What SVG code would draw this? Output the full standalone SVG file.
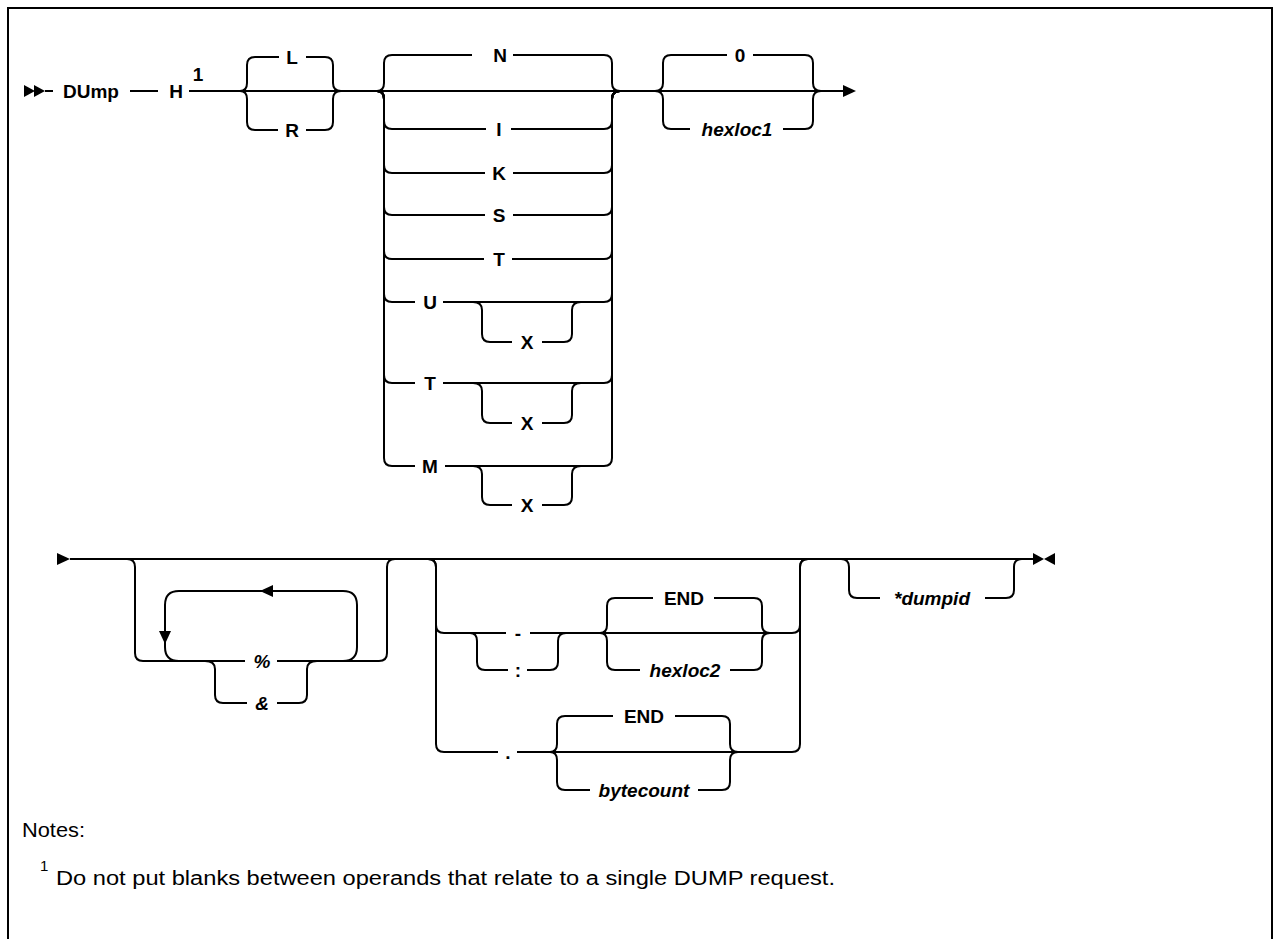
<svg xmlns="http://www.w3.org/2000/svg" width="1274" height="939" viewBox="0 0 1274 939">
<style>
.ln{fill:none;stroke:#000;stroke-width:2;stroke-linecap:butt}
.fr{fill:none;stroke:#000;stroke-width:2}
.ah{fill:#000;stroke:none}
.kw{font-family:"Liberation Sans",Arial,sans-serif;font-weight:bold;font-size:19px;text-anchor:middle;fill:#000}
.var{font-family:"Liberation Sans",Arial,sans-serif;font-weight:bold;font-style:italic;font-size:19px;text-anchor:middle;fill:#000}
.note{font-family:"Liberation Sans",Arial,sans-serif;font-size:20px;fill:#000}
</style>
<rect width="1274" height="939" fill="#fff"/>
<g id="frame">
<path class="fr" d="M8,939 V8 H1272 V939"/>
</g>
<g id="connectors">
<!-- row 1 -->
<polygon class="ah" points="24,85 35,91 24,97"/>
<polygon class="ah" points="34,85 45,91 34,97"/>
<path class="ln" d="M45,91 H53 M130,91 H158 M189,91 H843"/>
<path class="ln" d="M240,91 Q247,91 247,83 V65 Q247,57 255,57 H279 M306,57 H325 Q333,57 333,65 V83 Q333,91 341,91"/>
<path class="ln" d="M240,91 Q247,91 247,99 V122 Q247,130 255,130 H278 M306,130 H325 Q333,130 333,122 V99 Q333,91 341,91"/>
<path class="ln" d="M377,91 Q384,91 384,83 V63 Q384,55 392,55 H472 M513,55 H604 Q612,55 612,63 V83 Q612,91 620,91"/>
<path class="ln" d="M377,91 Q384,91 384,99 V121 Q384,129 392,129 H486 M511,129 H604 Q612,129 612,121 V99 Q612,91 620,91"/>
<path class="ln" d="M377,91 Q384,91 384,99 V165 Q384,173 392,173 H485 M513,173 H604 Q612,173 612,165 V99 Q612,91 620,91"/>
<path class="ln" d="M377,91 Q384,91 384,99 V207 Q384,215 392,215 H485 M513,215 H604 Q612,215 612,207 V99 Q612,91 620,91"/>
<path class="ln" d="M377,91 Q384,91 384,99 V251 Q384,259 392,259 H484 M512,259 H604 Q612,259 612,251 V99 Q612,91 620,91"/>
<path class="ln" d="M377,91 Q384,91 384,99 V294 Q384,302 392,302 H415 M443,302 H604 Q612,302 612,294 V99 Q612,91 620,91"/>
<path class="ln" d="M473,302 Q482,302 482,310 V334 Q482,342 490,342 H512 M542,342 H564 Q572,342 572,334 V310 Q572,302 581,302"/>
<path class="ln" d="M377,91 Q384,91 384,99 V375 Q384,383 392,383 H415 M443,383 H604 Q612,383 612,375 V99 Q612,91 620,91"/>
<path class="ln" d="M473,383 Q482,383 482,391 V415 Q482,423 490,423 H512 M542,423 H564 Q572,423 572,415 V391 Q572,383 581,383"/>
<path class="ln" d="M377,91 Q384,91 384,99 V458 Q384,466 392,466 H415 M445,466 H604 Q612,466 612,458 V99 Q612,91 620,91"/>
<path class="ln" d="M473,466 Q482,466 482,474 V497 Q482,505 490,505 H512 M542,505 H564 Q572,505 572,497 V474 Q572,466 581,466"/>
<path class="ln" d="M655,91 Q663,91 663,83 V63 Q663,55 671,55 H727 M753,55 H805 Q813,55 813,63 V83 Q813,91 821,91"/>
<path class="ln" d="M655,91 Q663,91 663,99 V121 Q663,129 671,129 H690 M783,129 H805 Q813,129 813,121 V99 Q813,91 821,91"/>
<polygon class="ah" points="843,85 856,91 843,97"/>
<!-- row 2 -->
<polygon class="ah" points="57,553 70,559 57,565"/>
<path class="ln" d="M70,559 H1033"/>
<path class="ln" d="M127,559 Q135,559 135,567 V653 Q135,661 143,661 H245 M277,661 H379 Q387,661 387,653 V567 Q387,559 395,559"/>
<path class="ln" d="M343,661 Q357,661 357,647 V605 Q357,591 343,591 H179 Q165,591 165,605 V647 Q165,661 179,661"/>
<polygon class="ah" points="260,591 273,585 273,597"/>
<polygon class="ah" points="165,644 159,631 171,631"/>
<path class="ln" d="M205,661 Q215,661 215,669 V695 Q215,703 223,703 H247 M277,703 H299 Q307,703 307,695 V669 Q307,661 317,661"/>
<path class="ln" d="M428,559 Q436,559 436,567 V625 Q436,633 444,633 H506 M530,633 H792 Q800,633 800,625 V567 Q800,559 808,559"/>
<path class="ln" d="M470,633 Q477,633 477,641 V662 Q477,670 485,670 H508 M527,670 H550 Q558,670 558,662 V641 Q558,633 566,633"/>
<path class="ln" d="M600,633 Q607,633 607,625 V606 Q607,598 615,598 H653 M714,598 H754 Q762,598 762,606 V625 Q762,633 770,633"/>
<path class="ln" d="M600,633 Q607,633 607,641 V662 Q607,670 615,670 H640 M730,670 H754 Q762,670 762,662 V641 Q762,633 770,633"/>
<path class="ln" d="M428,559 Q436,559 436,567 V744 Q436,752 444,752 H498 M517,752 H792 Q800,752 800,744 V567 Q800,559 808,559"/>
<path class="ln" d="M550,752 Q557,752 557,744 V724 Q557,716 565,716 H613 M675,716 H722 Q730,716 730,724 V744 Q730,752 738,752"/>
<path class="ln" d="M550,752 Q557,752 557,760 V782 Q557,790 565,790 H590 M698,790 H722 Q730,790 730,782 V760 Q730,752 738,752"/>
<path class="ln" d="M841,559 Q849,559 849,567 V590 Q849,598 857,598 H880 M985,598 H1006 Q1014,598 1014,590 V567 Q1014,559 1022,559"/>
<polygon class="ah" points="1033,553 1044,559 1033,565"/>
<polygon class="ah" points="1055,553 1044,559 1055,565"/>
</g>
<g id="n-dump"><text class="kw" x="63" y="98" style="text-anchor:start">DUmp</text></g>
<g id="n-h"><text class="kw" x="176" y="98">H</text><text class="kw" x="198" y="81">1</text></g>
<g id="n-l"><text class="kw" x="292" y="64">L</text></g>
<g id="n-r"><text class="kw" x="292" y="137">R</text></g>
<g id="n-n"><text class="kw" x="500" y="62">N</text></g>
<g id="n-i"><text class="kw" x="499" y="136">I</text></g>
<g id="n-k"><text class="kw" x="499" y="180">K</text></g>
<g id="n-s"><text class="kw" x="499" y="222">S</text></g>
<g id="n-t1"><text class="kw" x="499" y="266">T</text></g>
<g id="n-u"><text class="kw" x="430" y="309">U</text></g>
<g id="n-ux"><text class="kw" x="527" y="349">X</text></g>
<g id="n-t2"><text class="kw" x="430" y="390">T</text></g>
<g id="n-tx"><text class="kw" x="527" y="430">X</text></g>
<g id="n-m"><text class="kw" x="430" y="473">M</text></g>
<g id="n-mx"><text class="kw" x="527" y="512">X</text></g>
<g id="n-0"><text class="kw" x="740" y="62">0</text></g>
<g id="n-hexloc1"><text class="var" x="737" y="136">hexloc1</text></g>
<g id="n-pct"><text class="var" x="262" y="668">%</text></g>
<g id="n-amp"><text class="var" x="262" y="710">&amp;</text></g>
<g id="n-dash"><text class="kw" x="518" y="640">-</text></g>
<g id="n-colon"><text class="kw" x="518" y="677">:</text></g>
<g id="n-end1"><text class="kw" x="684" y="605">END</text></g>
<g id="n-hexloc2"><text class="var" x="685" y="677">hexloc2</text></g>
<g id="n-dot"><text class="kw" x="508" y="759">.</text></g>
<g id="n-end2"><text class="kw" x="644" y="723">END</text></g>
<g id="n-bytecount"><text class="var" x="644" y="797">bytecount</text></g>
<g id="n-dumpid"><text class="var" x="932" y="605">*dumpid</text></g>
<g id="notes">
<text class="note" x="22" y="837" textLength="63" lengthAdjust="spacingAndGlyphs">Notes:</text>
<text class="note" x="40" y="871" style="font-size:15px">1</text>
<text class="note" x="56" y="885" textLength="779" lengthAdjust="spacingAndGlyphs">Do not put blanks between operands that relate to a single DUMP request.</text>
</g>
</svg>
